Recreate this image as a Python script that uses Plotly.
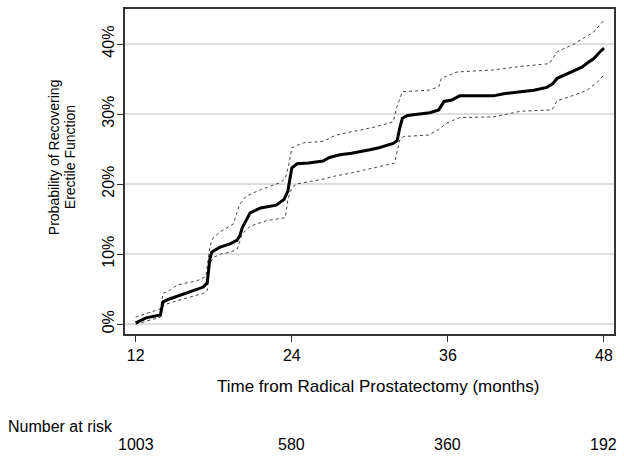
import plotly.graph_objects as go

# Kaplan-Meier style cumulative probability (%)
months_main = [12.0, 12.8, 13.9, 14.1, 14.6, 15.9, 17.2, 17.5, 17.7, 17.85, 18.5, 19.3, 19.8, 20.0,
               20.2, 20.8, 21.6, 22.8, 23.4, 23.7, 24.0, 24.4, 25.3, 26.4, 26.9, 27.7, 28.6, 30.0,
               30.7, 31.8, 32.1, 32.3, 32.5, 32.9, 33.6, 34.6, 35.3, 35.7, 36.3, 36.9, 39.5, 40.3,
               41.6, 42.6, 43.6, 44.1, 44.4, 45.4, 46.3, 46.8, 47.2, 47.7, 48.0]
prob_main = [0.2, 0.9, 1.3, 3.2, 3.6, 4.4, 5.3, 5.9, 9.3, 10.3, 11.0, 11.5, 12.0, 12.6,
             13.8, 15.9, 16.6, 17.0, 17.8, 19.0, 22.3, 22.9, 23.0, 23.3, 23.8, 24.2, 24.4, 24.9,
             25.2, 25.8, 26.2, 28.0, 29.4, 29.8, 30.0, 30.2, 30.6, 31.8, 32.0, 32.6, 32.6, 32.9,
             33.2, 33.4, 33.8, 34.4, 35.1, 36.0, 36.7, 37.4, 37.9, 38.9, 39.4]

months_upper = [12.0, 13.9, 14.1, 14.6, 15.2, 16.7, 17.4, 17.7, 17.9, 18.5, 19.5, 20.0, 20.5, 21.6,
                23.1, 23.5, 23.8, 24.0, 24.9, 26.4, 27.4, 28.6, 30.5, 31.8, 32.1, 32.5, 34.5, 35.3,
                35.5, 36.7, 39.5, 41.6, 43.8, 44.4, 45.7, 46.4, 47.2, 48.0]
prob_upper = [1.0, 2.2, 4.4, 4.8, 5.6, 6.2, 6.8, 11.0, 12.2, 13.2, 14.3, 17.1, 18.3, 19.2,
              20.2, 20.8, 23.0, 25.2, 25.9, 26.1, 27.0, 27.5, 28.2, 28.9, 31.1, 33.2, 33.4, 33.9,
              35.1, 36.0, 36.3, 36.8, 37.2, 38.9, 40.0, 40.8, 41.7, 43.4]

months_lower = [12.0, 13.9, 14.1, 14.9, 17.2, 17.5, 17.7, 17.95, 18.5, 19.3, 19.8, 20.2, 20.8, 22.1,
                23.5, 23.7, 23.9, 24.3, 25.2, 26.4, 27.2, 28.6, 30.5, 31.9, 32.3, 32.6, 34.5, 35.3,
                35.9, 36.9, 39.5, 41.6, 44.0, 44.4, 45.7, 46.7, 47.5, 48.0]
prob_lower = [0.0, 1.0, 2.7, 3.2, 4.4, 4.8, 8.6, 9.5, 10.0, 10.3, 10.7, 12.9, 14.0, 14.8,
              15.2, 17.8, 19.0, 20.0, 20.3, 20.7, 21.1, 21.6, 22.4, 23.0, 26.3, 26.8, 27.0, 27.8,
              28.7, 29.5, 29.6, 30.4, 30.6, 31.9, 32.7, 33.4, 34.6, 35.6]

x_ticks = [12, 24, 36, 48]
y_ticks = [0, 10, 20, 30, 40]
y_tick_labels = ["0%", "10%", "20%", "30%", "40%"]
risk_months = [12, 24, 36, 48]
number_at_risk = [1003, 580, 360, 192]

FONT = "Liberation Sans, Arial, sans-serif"

fig = go.Figure()
for xs, ys in [(months_upper, prob_upper), (months_lower, prob_lower)]:
    fig.add_trace(go.Scatter(x=xs, y=ys, mode="lines",
                             line=dict(color="#444444", width=1, dash="3px,3px"),
                             hoverinfo="skip", showlegend=False))
fig.add_trace(go.Scatter(x=months_main, y=prob_main, mode="lines",
                         line=dict(color="black", width=3), showlegend=False))

annotations = []
for m, n in zip(risk_months, number_at_risk):
    annotations.append(dict(x=m, y=-0.3404, xref="x", yref="paper", text=str(n),
                            showarrow=False, xanchor="center", yanchor="middle",
                            font=dict(size=16, color="black", family=FONT)))
annotations.append(dict(x=-0.2434, y=-0.2835, xref="paper", yref="paper", text="Number at risk",
                        showarrow=False, xanchor="left", yanchor="middle",
                        font=dict(size=16, color="black", family=FONT)))
for xp, line in [(-0.1452, "Probability of Recovering"), (-0.1125, "Erectile Function")]:
    annotations.append(dict(x=xp, y=0.544, xref="paper", yref="paper", text=line,
                            showarrow=False, xanchor="center", yanchor="middle", textangle=-90,
                            font=dict(size=14, color="black", family=FONT)))
annotations.append(dict(x=0.517, y=-0.161, xref="paper", yref="paper",
                        text="Time from Radical Prostatectomy (months)",
                        showarrow=False, xanchor="center", yanchor="middle",
                        font=dict(size=17, color="black", family=FONT)))

fig.update_layout(
    width=624, height=458,
    margin=dict(l=125, r=10, t=7, b=124),
    paper_bgcolor="white", plot_bgcolor="white",
    font=dict(family=FONT, size=16, color="black"),
    xaxis=dict(range=[11.18, 48.77], tickvals=x_ticks, ticks="outside", ticklen=6,
               tickcolor="#333", showgrid=False, zeroline=False,
               showline=True, linecolor="#333", linewidth=1.5, mirror=True,
               tickfont=dict(size=16)),
    yaxis=dict(range=[-1.4, 45], tickvals=y_ticks, ticktext=y_tick_labels, ticks="outside",
               ticklen=6, tickcolor="#333", tickangle=-90, showgrid=True,
               gridcolor="#dcdcdc", gridwidth=1.5, zeroline=False,
               showline=True, linecolor="#333", linewidth=1.5, mirror=True,
               tickfont=dict(size=16), ticklabelstandoff=-3),
    annotations=annotations,
)

fig.write_html("out.html", post_script="document.body.style.margin='0';",
               config={"displayModeBar": False})
